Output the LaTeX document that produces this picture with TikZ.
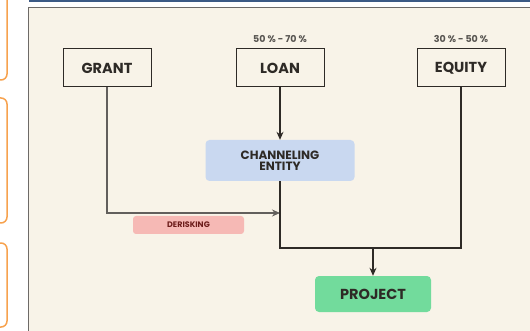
\documentclass[tikz,border=0pt]{standalone}
\usepackage{fontspec}
\setmainfont{Poppins}
\usetikzlibrary{arrows.meta}
\definecolor{cream}{HTML}{F8F3E8}
\definecolor{barblue}{HTML}{3B5A85}
\definecolor{tabor}{HTML}{F7A24E}
\definecolor{ink}{HTML}{2E2A26}
\definecolor{chanblue}{HTML}{C9D8F0}
\definecolor{projgreen}{HTML}{72DB9C}
\definecolor{riskpink}{HTML}{F6B9B5}
\tikzset{
  srcbox/.style={draw=ink, line width=1pt, fill=cream, minimum width=88pt, minimum height=38pt,
    font=\fontsize{14.5}{16}\selectfont\bfseries, text=ink},
  softbox/.style={rounded corners=4pt, text=ink, font=\fontsize{12}{14}\selectfont\bfseries, align=center},
  pct/.style={font=\fontsize{9.5}{10}\selectfont\bfseries, text=ink!80},
  link/.style={draw=ink, line width=1.1pt},
  tip/.style={-{Stealth[length=8pt,width=7pt]}}
}
\begin{document}
\begin{tikzpicture}[x=1pt, y=-1pt]
   \useasboundingbox (0,0) rectangle (530,331);
   \fill[white] (0,0) rectangle (530,331);
   % side tabs and frame
   \foreach \a/\b in {-10/80, 98/223, 243/327}
     \draw[tabor, line width=1.5pt, rounded corners=6pt] (-10,\a) rectangle (7,\b);
   \fill[barblue] (29,0) rectangle (540,2.5);
   \filldraw[fill=cream, draw=ink!70, line width=0.8pt] (28,7) rectangle (540,345);

   \foreach \n/\t/\x in {grant/GRANT/107, loan/LOAN/280, equity/EQUITY/461}
     \node[srcbox] (\n) at (\x,68) {\t};
   \node[pct] (loanpct) at (280,39) {50 \% - 70 \%};
   \node[pct] (equitypct) at (461,39) {30 \% - 50 \%};

   \node[softbox, fill=chanblue, minimum width=149pt, minimum height=41pt] (chan) at (280,160.5) {CHANNELING\\[-3pt]ENTITY};
   \node[softbox, fill=projgreen, minimum width=116pt, minimum height=36pt,
     font=\fontsize{14.5}{16}\selectfont\bfseries] (project) at (373,294) {PROJECT};
   \node[softbox, fill=riskpink, minimum width=111pt, minimum height=18pt, rounded corners=3pt,
     font=\fontsize{8}{9}\selectfont\bfseries, text=ink!70!red] (derisk) at (188.5,225) {DERISKING};

   \coordinate (tap) at (280,213);
   \coordinate (bus) at (373,248);
   \draw[link, tip] (loan) -- (chan);
   \draw[link, draw=ink!75, tip] (grant.south) |- (tap);
   \draw[link] (chan.south) |- (bus) -| (equity.south);
   \draw[link, tip] (bus) -- (project.north);
\end{tikzpicture}
\end{document}
